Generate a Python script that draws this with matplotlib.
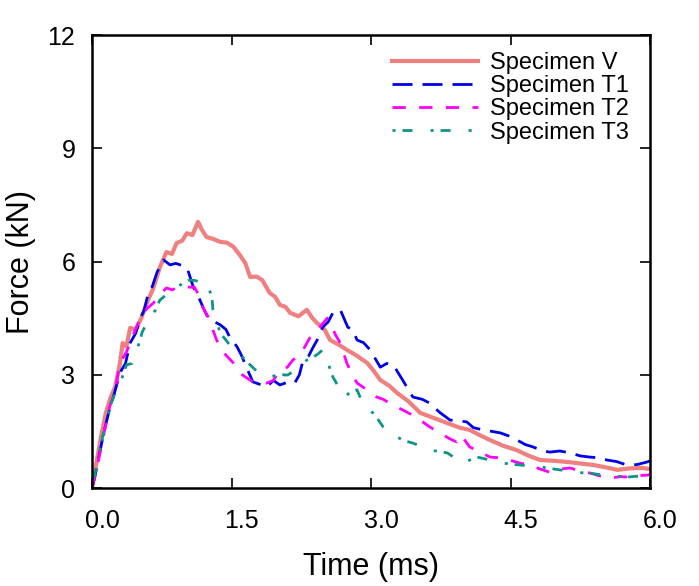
import matplotlib
matplotlib.use("Agg")
import matplotlib.pyplot as plt
import matplotlib.transforms as mtransforms

plt.rcParams["font.family"] = ["Liberation Sans", "DejaVu Sans"]

# Force-time curves (time in ms, force in kN)
t_v = [0.0, 0.05, 0.1, 0.15, 0.2, 0.25, 0.3, 0.33, 0.37, 0.41, 0.47, 0.53, 0.59, 0.66,
       0.73, 0.8, 0.86, 0.91, 0.97, 1.02, 1.08, 1.14, 1.18, 1.23, 1.3, 1.38, 1.45, 1.52,
       1.59, 1.65, 1.7, 1.77, 1.83, 1.91, 1.97, 2.02, 2.08, 2.13, 2.22, 2.31, 2.37, 2.42,
       2.5, 2.56, 2.65, 2.74, 2.85, 2.96, 3.03, 3.1, 3.2, 3.28, 3.4, 3.53, 3.68, 3.82,
       3.95, 4.06, 4.17, 4.28, 4.42, 4.57, 4.7, 4.82, 4.97, 5.11, 5.25, 5.39, 5.52, 5.65,
       5.78, 5.92, 6.0]
f_v = [0.0, 0.7, 1.4, 2.0, 2.4, 2.68, 3.3, 3.84, 3.75, 4.24, 4.2, 4.5, 4.9, 5.3,
       5.85, 6.25, 6.2, 6.49, 6.55, 6.75, 6.7, 7.05, 6.85, 6.65, 6.6, 6.52, 6.5, 6.39,
       6.17, 5.95, 5.59, 5.6, 5.51, 5.17, 5.06, 4.85, 4.8, 4.64, 4.55, 4.72, 4.5, 4.37,
       4.2, 3.92, 3.8, 3.66, 3.5, 3.31, 3.1, 2.86, 2.7, 2.52, 2.3, 1.99, 1.85, 1.72,
       1.6, 1.54, 1.4, 1.27, 1.12, 1.0, 0.85, 0.74, 0.72, 0.69, 0.65, 0.61, 0.55, 0.48,
       0.52, 0.53, 0.5]

t_t1 = [0.0, 0.03, 0.08, 0.13, 0.18, 0.24, 0.3, 0.36, 0.41, 0.47, 0.52, 0.56, 0.6, 0.65,
        0.7, 0.77, 0.84, 0.9, 0.95, 1.02, 1.09, 1.16, 1.21, 1.25, 1.32, 1.38, 1.44,
        1.48, 1.56, 1.61, 1.66, 1.73, 1.8, 1.88, 1.95, 2.02, 2.1, 2.18, 2.23, 2.27,
        2.33, 2.38, 2.44, 2.48, 2.54, 2.59, 2.67, 2.75, 2.8, 2.85, 2.92, 2.99, 3.1,
        3.17, 3.24, 3.34, 3.45, 3.55, 3.63, 3.74, 3.85, 3.95, 4.03, 4.1, 4.2, 4.3, 4.39,
        4.48, 4.57, 4.66, 4.74, 4.83, 4.92, 5.03, 5.14, 5.25, 5.35, 5.45, 5.54, 5.64,
        5.75, 5.86, 5.97, 6.0]
f_t1 = [0.0, 0.29, 0.9, 1.5, 2.0, 2.5, 3.05, 3.3, 3.84, 4.1, 4.5, 4.7, 5.11, 5.35,
        5.72, 6.04, 5.91, 5.95, 5.91, 5.85, 5.32, 4.98, 4.7, 4.5, 4.4, 4.32, 4.2,
        4.0, 3.74, 3.5, 3.2, 2.81, 2.75, 2.68, 2.85, 2.73, 2.8, 2.78, 3.0, 3.39,
        3.5, 3.74, 4.0, 4.26, 4.4, 4.64, 4.72, 4.26, 4.2, 3.92, 3.85, 3.66, 3.2,
        3.3, 3.26, 2.86, 2.41, 2.35, 2.25, 2.0, 1.8, 1.78, 1.75, 1.6, 1.54, 1.5, 1.46,
        1.38, 1.27, 1.15, 1.09, 1.0, 0.95, 0.98, 0.93, 0.85, 0.82, 0.8, 0.74, 0.7,
        0.61, 0.62, 0.69, 0.72]

t_t2 = [0.0, 0.05, 0.1, 0.15, 0.19, 0.25, 0.3, 0.37, 0.45, 0.52, 0.59, 0.66, 0.73, 0.8,
        0.86, 0.91, 0.97, 1.02, 1.1, 1.16, 1.19, 1.25, 1.3, 1.34, 1.41, 1.52, 1.62,
        1.73, 1.8, 1.88, 1.95, 2.02, 2.1, 2.16, 2.22, 2.27, 2.34, 2.4, 2.45, 2.53,
        2.58, 2.62, 2.67, 2.74, 2.8, 2.85, 2.91, 2.98, 3.06, 3.13, 3.2, 3.27, 3.34,
        3.43, 3.53, 3.63, 3.74, 3.85, 3.92, 3.97, 4.06, 4.17, 4.28, 4.38, 4.49, 4.6,
        4.71, 4.82, 4.92, 5.03, 5.14, 5.25, 5.35, 5.46, 5.57, 5.68, 5.78, 5.88, 5.97, 6.0]
f_t2 = [0.0, 0.5, 1.1, 1.7, 2.15, 2.6, 3.3, 3.6, 4.1, 4.5, 4.75, 4.9, 5.11, 5.3,
        5.25, 5.3, 5.28, 5.32, 5.32, 5.06, 4.79, 4.53, 4.19, 3.92, 3.6, 3.31, 2.99,
        2.81, 2.8, 2.78, 2.85, 3.13, 3.2, 3.39, 3.5, 3.66, 3.97, 4.1, 4.26, 4.5,
        4.26, 4.05, 3.84, 3.31, 3.0, 2.78, 2.68, 2.55, 2.41, 2.35, 2.25, 2.15, 2.07,
        1.95, 1.8, 1.62, 1.46, 1.3, 1.22, 1.4, 1.09, 0.95, 0.82, 0.8, 0.74, 0.66,
        0.61, 0.5, 0.42, 0.5, 0.53, 0.45, 0.4, 0.32, 0.26, 0.3, 0.29, 0.33, 0.34, 0.36]

t_t3 = [0.0, 0.05, 0.1, 0.15, 0.2, 0.26, 0.32, 0.37, 0.43, 0.49, 0.54, 0.62, 0.68, 0.73,
        0.79, 0.84, 0.9, 0.95, 1.0, 1.05, 1.1, 1.16, 1.23, 1.29, 1.3, 1.34, 1.38, 1.43,
        1.48, 1.54, 1.59, 1.65, 1.7, 1.77, 1.84, 1.91, 1.99, 2.05, 2.1, 2.2, 2.25,
        2.31, 2.38, 2.43, 2.48, 2.53, 2.58, 2.65, 2.72, 2.78, 2.85, 2.91, 2.97, 3.02,
        3.08, 3.13, 3.2, 3.28, 3.36, 3.45, 3.54, 3.63, 3.72, 3.82, 3.9, 3.99, 4.07,
        4.14, 4.21, 4.28, 4.35, 4.42, 4.51, 4.6, 4.71, 4.82, 4.92, 5.03, 5.15, 5.28,
        5.39, 5.5, 5.62, 5.75, 5.86, 5.97, 6.0]
f_t3 = [0.0, 0.6, 1.2, 1.75, 2.2, 2.6, 2.9, 3.26, 3.3, 3.7, 4.13, 4.53, 4.7, 4.98,
        5.1, 5.24, 5.3, 5.38, 5.45, 5.51, 5.5, 5.46, 5.46, 5.06, 4.72, 4.4, 4.1, 3.95,
        3.79, 3.65, 3.52, 3.4, 3.26, 3.1, 2.99, 2.94, 2.99, 3.0, 2.99, 3.13, 3.25,
        3.39, 3.47, 3.55, 3.66, 3.39, 2.99, 2.68, 2.41, 2.55, 2.6, 2.25, 2.1, 1.99,
        1.8, 1.62, 1.5, 1.35, 1.25, 1.19, 1.1, 1.01, 0.97, 0.93, 0.8, 0.66, 0.75,
        0.82, 0.78, 0.74, 0.7, 0.66, 0.63, 0.61, 0.58, 0.56, 0.52, 0.48, 0.44, 0.4,
        0.38, 0.34, 0.32, 0.29, 0.31, 0.34, 0.33]

fig = plt.figure(figsize=(6.99, 5.86), dpi=100)
ax = fig.add_axes([92 / 699, 98 / 586, 558 / 699, 453 / 586])

ax.plot(t_v, f_v, color="#f08080", lw=3.0, label="Specimen V")
ax.plot(t_t1, f_t1, color="#0000e8", lw=2.0, dashes=(7.2, 3.6), label="Specimen T1")
ax.plot(t_t2, f_t2, color="#ff00ff", lw=2.0, dashes=(4.8, 4.8), label="Specimen T2")
ax.plot(t_t3, f_t3, color="#0f9488", lw=2.0, dashes=(1.1, 2.5, 3.6, 6.5),
        label="Specimen T3")

ax.set_xlim(0, 6)
ax.set_ylim(0, 12)
ax.set_xticks([0, 1.5, 3.0, 4.5, 6.0])
ax.set_xticklabels(["0.0", "1.5", "3.0", "4.5", "6.0"])
ax.set_yticks([0, 3, 6, 9, 12])
ax.tick_params(direction="in", length=7, width=1.2, top=True, right=True,
               labelsize=18)
ax.tick_params(axis="x", pad=15)
ax.tick_params(axis="y", pad=12)
for lbl in ax.get_xticklabels():
    lbl.set_transform(lbl.get_transform() +
                      mtransforms.ScaledTranslation(0.1, 0, fig.dpi_scale_trans))
for sp in ax.spines.values():
    sp.set_linewidth(1.8)

ax.set_xlabel("Time (ms)", fontsize=22, labelpad=14)
ax.set_ylabel("Force (kN)", fontsize=22, labelpad=8)

ax.legend(loc="upper left", bbox_to_anchor=(392 / 699, 1 - 52 / 586),
          bbox_transform=fig.transFigure, frameon=False, fontsize=17,
          handlelength=3.65, handletextpad=0.5, labelspacing=0.05,
          borderpad=0, borderaxespad=0)

fig.savefig("out.png", dpi=100)
